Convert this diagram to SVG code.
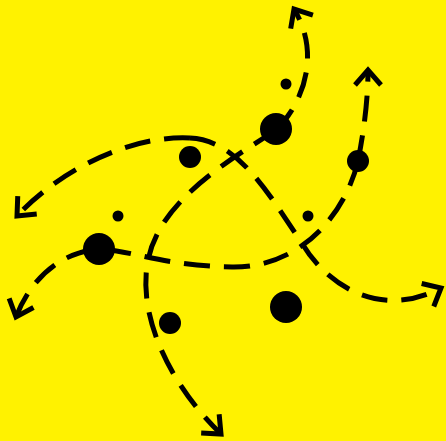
<svg xmlns="http://www.w3.org/2000/svg" width="446" height="441" viewBox="0 0 446 441">
  <defs>
    <style>
      .run { fill: none; stroke: #000; stroke-width: 5; stroke-dasharray: 26 14; marker-end: url(#arrow); }
      .player { fill: #000; }
    </style>
    <marker id="arrow" markerUnits="userSpaceOnUse" markerWidth="40" markerHeight="40" viewBox="-20 -20 40 40" refX="0" refY="0" orient="auto" overflow="visible">
      <path d="M-15,-13 L0,0 L-15,13" fill="none" stroke="#000" stroke-width="5" stroke-dasharray="none" stroke-linejoin="miter"/>
    </marker>
  </defs>
  <rect width="446" height="441" fill="#fff200"/>
  <g id="connectors">
    <path class="run" d="M276,130 C302,105 322,55 294,9"/>
    <path class="run" d="M276,130 C230,160 160,200 148,260 S175,390 221,434"/>
    <path class="run" d="M358,161 C364,130 368,100 368,70"/>
    <path class="run" d="M358,161 C345,215 300,268 232,267 C164,266 130,250 99,249 C60,252 30,280 16,317"/>
    <path class="run" d="M190,138 C130,135 60,170 17,216"/>
    <path class="run" d="M190,138 C240,140 272,200 300,240 C325,285 380,320 441,288"/>
  </g>
  <g id="p1"><circle class="player" cx="276" cy="129" r="16"/></g>
  <g id="p2"><circle class="player" cx="190" cy="157" r="11"/></g>
  <g id="p3"><circle class="player" cx="358" cy="161" r="11"/></g>
  <g id="p4"><circle class="player" cx="286" cy="84" r="5.5"/></g>
  <g id="p5"><circle class="player" cx="118" cy="216" r="5.5"/></g>
  <g id="p6"><circle class="player" cx="308" cy="216" r="5.5"/></g>
  <g id="p7"><circle class="player" cx="99" cy="249" r="16"/></g>
  <g id="p8"><circle class="player" cx="286" cy="307" r="16"/></g>
  <g id="p9"><circle class="player" cx="170" cy="323" r="11"/></g>
</svg>
